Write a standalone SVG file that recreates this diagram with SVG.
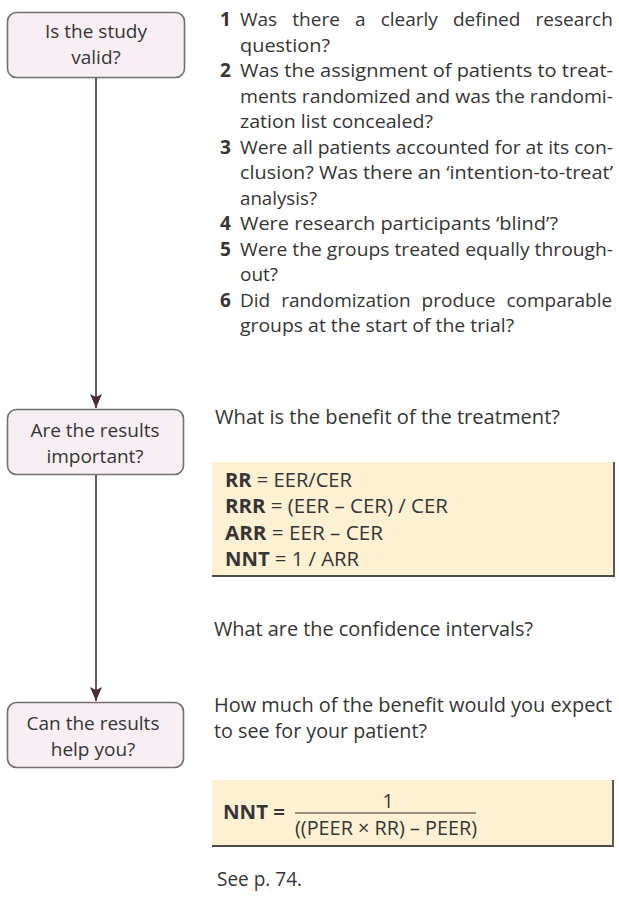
<svg xmlns="http://www.w3.org/2000/svg" width="619" height="907" viewBox="0 0 619 907">
<style>
.t{font-family:"Open Sans","Noto Sans","Liberation Sans",sans-serif;font-size:19px;fill:#353535}
.f{font-family:"Open Sans","Noto Sans","Liberation Sans",sans-serif;font-size:19.5px;fill:#353535}
.b{font-weight:bold}
.nb{font-family:"Open Sans","Noto Sans","Liberation Sans",sans-serif;font-size:19px;fill:#353535;text-anchor:middle}
.node{fill:#f7eff4;stroke:#707070;stroke-width:1.6}
.fbox{fill:#fdf0d3}
.edge{stroke:#4d2b38;stroke-width:1.6;fill:none}
.shadow{stroke:#4a4a4a;stroke-width:1.8;fill:none}
</style>
<defs>
<marker id="ah" markerUnits="userSpaceOnUse" markerWidth="16" markerHeight="14" viewBox="0 0 16 14" refX="15" refY="7" orient="auto">
<path d="M1,1 L4,7 L1,13 L15,7 Z" fill="#4d2b38"/>
</marker>
</defs>
<rect width="619" height="907" fill="#ffffff"/>
<g id="connectors">
<line class="edge" x1="96" y1="78" x2="96" y2="408" marker-end="url(#ah)"/>
<line class="edge" x1="96" y1="475" x2="96" y2="701" marker-end="url(#ah)"/>
</g>
<g id="node-valid">
<rect class="node" x="7.5" y="12.5" width="177" height="65" rx="9"/>
<text class="nb" x="96" y="38">Is the study</text>
<text class="nb" x="96" y="64">valid?</text>
</g>
<g id="node-important">
<rect class="node" x="7.5" y="409.5" width="176" height="65" rx="9"/>
<text class="nb" x="95" y="437">Are the results</text>
<text class="nb" x="95" y="463">important?</text>
</g>
<g id="node-help">
<rect class="node" x="7.5" y="702.5" width="176" height="65" rx="9"/>
<text class="nb" x="93" y="730">Can the results</text>
<text class="nb" x="93" y="756">help you?</text>
</g>
<g id="criteria">
<text class="t b" x="220" y="26">1</text>
<text class="t" x="240" y="26" style="word-spacing:10.2px">Was there a clearly defined research</text>
<text class="t" x="240" y="51.5" textLength="90" lengthAdjust="spacingAndGlyphs">question?</text>
<text class="t b" x="220" y="77">2</text>
<text class="t" x="240" y="77" textLength="373" lengthAdjust="spacingAndGlyphs">Was the assignment of patients to treat-</text>
<text class="t" x="240" y="102.5" textLength="373" lengthAdjust="spacingAndGlyphs">ments randomized and was the randomi-</text>
<text class="t" x="240" y="128" textLength="193" lengthAdjust="spacingAndGlyphs">zation list concealed?</text>
<text class="t b" x="220" y="153.5">3</text>
<text class="t" x="240" y="153.5" textLength="373" lengthAdjust="spacingAndGlyphs">Were all patients accounted for at its con-</text>
<text class="t" x="240" y="179" textLength="373" lengthAdjust="spacingAndGlyphs">clusion? Was there an ‘intention-to-treat’</text>
<text class="t" x="240" y="204.5" textLength="77" lengthAdjust="spacingAndGlyphs">analysis?</text>
<text class="t b" x="220" y="230">4</text>
<text class="t" x="240" y="230" textLength="318" lengthAdjust="spacingAndGlyphs">Were research participants ‘blind’?</text>
<text class="t b" x="220" y="255.5">5</text>
<text class="t" x="240" y="255.5" textLength="373" lengthAdjust="spacingAndGlyphs">Were the groups treated equally through-</text>
<text class="t" x="240" y="281">out?</text>
<text class="t b" x="220" y="306.5">6</text>
<text class="t" x="240" y="306.5" style="word-spacing:6px">Did randomization produce comparable</text>
<text class="t" x="240" y="332" textLength="274" lengthAdjust="spacingAndGlyphs">groups at the start of the trial?</text>
</g>
<g id="importance">
<text class="f" x="215" y="424" textLength="345" lengthAdjust="spacingAndGlyphs">What is the benefit of the treatment?</text>
<rect class="fbox" x="212" y="462" width="402" height="114"/>
<polyline class="shadow" points="212,576 614,576 614,462"/>
<text class="f" x="225" y="487" textLength="127" lengthAdjust="spacingAndGlyphs"><tspan class="b">RR</tspan> = EER/CER</text>
<text class="f" x="225" y="513" textLength="223" lengthAdjust="spacingAndGlyphs"><tspan class="b">RRR</tspan> = (EER – CER) / CER</text>
<text class="f" x="225" y="540" textLength="158" lengthAdjust="spacingAndGlyphs"><tspan class="b">ARR</tspan> = EER – CER</text>
<text class="f" x="225" y="566" textLength="134" lengthAdjust="spacingAndGlyphs"><tspan class="b">NNT</tspan> = 1 / ARR</text>
<text class="f" x="214" y="636" textLength="319" lengthAdjust="spacingAndGlyphs">What are the confidence intervals?</text>
</g>
<g id="applicability">
<text class="f" x="214" y="712" textLength="398" lengthAdjust="spacingAndGlyphs">How much of the benefit would you expect</text>
<text class="f" x="214" y="738" textLength="213" lengthAdjust="spacingAndGlyphs">to see for your patient?</text>
<rect class="fbox" x="212" y="780" width="401" height="66"/>
<polyline class="shadow" points="212,846 613,846 613,780"/>
<text class="f b" x="223" y="819" textLength="62" lengthAdjust="spacingAndGlyphs">NNT =</text>
<text class="f" x="388" y="808" text-anchor="middle">1</text>
<line x1="295" y1="813" x2="476" y2="813" stroke="#353535" stroke-width="1.2"/>
<text class="f" x="295" y="835" textLength="182" lengthAdjust="spacingAndGlyphs">((PEER × RR) – PEER)</text>
<text class="f" x="217" y="886" textLength="85" lengthAdjust="spacingAndGlyphs">See p. 74.</text>
</g>
</svg>
